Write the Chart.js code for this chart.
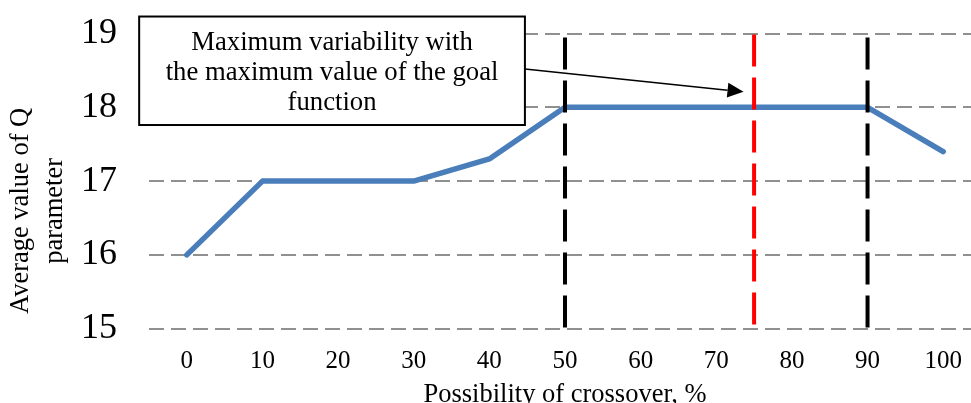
<!DOCTYPE html>
<html>
<head>
<meta charset="utf-8">
<script src="https://cdn.jsdelivr.net/npm/chart.js@4.4.1/dist/chart.umd.min.js"></script>
<style>
    html, body { margin: 0; padding: 0; background: #ffffff; overflow: hidden; }
    #wrap { width: 971px; height: 403px; overflow: hidden; }
</style>
</head>
<body>
<div id="wrap"><canvas id="chart" width="985" height="411"></canvas></div>
<script>
// Chart data
const crossoverPct = [0, 10, 20, 30, 40, 50, 60, 70, 80, 90, 100];
const avgQ = [16, 17, 17, 17, 17.3, 18, 18, 18, 18, 18, 17.4];
const yTicks = [15, 16, 17, 18, 19];
const boundaryX = [50, 90];     // black dashed markers
const optimumX = 75;            // red dashed marker
const noteLines = ['Maximum variability with', 'the maximum value of the goal', 'function'];

// Note box and arrow anchors, in data units
const noteBox = { x0: -6.3, x1: 44.7, y0: 19.23, y1: 17.76 };
const noteArrow = { x0: 44.7, y0: 18.52, x1: 73.6, y1: 18.21 };

const serif = "'Liberation Serif', 'Times New Roman', serif";

function vLine(x, color, dashOffset) {
    return {
        data: [{ x: x, y: 19 }, { x: x, y: 15 }],
        borderColor: color,
        borderWidth: 4,
        borderDash: [32, 11],
        borderDashOffset: dashOffset,
        pointRadius: 0,
        fill: false
    };
}

// Draw the text box with its arrow
const notePlugin = {
    id: 'note',
    afterDraw(chart) {
        const ctx = chart.ctx;
        const xs = chart.scales.x, ys = chart.scales.y;
        const bx0 = xs.getPixelForValue(noteBox.x0), bx1 = xs.getPixelForValue(noteBox.x1);
        const by0 = ys.getPixelForValue(noteBox.y0), by1 = ys.getPixelForValue(noteBox.y1);
        ctx.save();
        ctx.fillStyle = '#ffffff';
        ctx.fillRect(bx0, by0, bx1 - bx0, by1 - by0);
        ctx.strokeStyle = '#000000';
        ctx.lineWidth = 2;
        ctx.strokeRect(bx0, by0, bx1 - bx0, by1 - by0);

        ctx.fillStyle = '#000000';
        ctx.font = '26.7px ' + serif;
        ctx.textAlign = 'center';
        ctx.textBaseline = 'alphabetic';
        const cx = (bx0 + bx1) / 2;
        noteLines.forEach((t, i) => ctx.fillText(t, cx, by0 + 33.5 + i * 30));

        // arrow
        const ax0 = xs.getPixelForValue(noteArrow.x0), ay0 = ys.getPixelForValue(noteArrow.y0);
        const ax1 = xs.getPixelForValue(noteArrow.x1), ay1 = ys.getPixelForValue(noteArrow.y1);
        const ang = Math.atan2(ay1 - ay0, ax1 - ax0);
        const headLen = 16, headW = 7.5;
        const hx = ax1 - headLen * Math.cos(ang), hy = ay1 - headLen * Math.sin(ang);
        ctx.lineWidth = 1.5;
        ctx.beginPath();
        ctx.moveTo(ax0, ay0);
        ctx.lineTo(hx, hy);
        ctx.stroke();
        ctx.beginPath();
        ctx.moveTo(ax1, ay1);
        ctx.lineTo(hx + headW * Math.sin(ang), hy - headW * Math.cos(ang));
        ctx.lineTo(hx - headW * Math.sin(ang), hy + headW * Math.cos(ang));
        ctx.closePath();
        ctx.fill();
        ctx.restore();
    }
};

const ctx = document.getElementById('chart').getContext('2d');
new Chart(ctx, {
    type: 'line',
    data: {
        datasets: [
            vLine(optimumX, '#ff0000', -1),
            ...boundaryX.map(x => vLine(x, '#000000', -4)),
            {
                label: 'Average value of Q parameter',
                data: crossoverPct.map((x, i) => ({ x: x, y: avgQ[i] })),
                borderColor: '#4a7ebb',
                borderWidth: 5.5,
                borderCapStyle: 'round',
                borderJoinStyle: 'round',
                pointRadius: 0,
                tension: 0,
                fill: false
            }
        ]
    },
    options: {
        responsive: false,
        animation: false,
        layout: { padding: { top: 0, right: 4, bottom: 0, left: 0 } },
        plugins: {
            legend: { display: false },
            tooltip: { enabled: false }
        },
        scales: {
            x: {
                type: 'linear',
                min: -5,
                max: 105,
                afterBuildTicks: (axis) => { axis.ticks = crossoverPct.map(v => ({ value: v })); },
                grid: { display: false, drawTicks: false },
                border: { display: false },
                ticks: {
                    color: '#000000',
                    padding: 18,
                    maxRotation: 0,
                    autoSkip: false,
                    font: { family: serif, size: 25 }
                },
                title: {
                    display: true,
                    text: 'Possibility of crossover, %',
                    color: '#000000',
                    padding: { top: -15.5, bottom: 0 },
                    font: { family: serif, size: 26.5 }
                }
            },
            y: {
                min: 15,
                max: 19,
                afterBuildTicks: (axis) => { axis.ticks = yTicks.map(v => ({ value: v })); },
                grid: {
                    color: '#909090',
                    lineWidth: 2,
                    drawTicks: false
                },
                border: { display: false, dash: [15, 7] },
                ticks: {
                    color: '#000000',
                    padding: 32,
                    // small line height keeps the top gridline near the canvas edge
                    font: { family: serif, size: 36, lineHeight: 3 / 36 }
                },
                title: {
                    display: true,
                    text: ['Average value of Q         ', 'parameter         '],
                    color: '#000000',
                    padding: { top: 4, bottom: -23 },
                    font: { family: serif, size: 26.5, lineHeight: 34 / 26.5 }
                }
            }
        }
    },
    plugins: [notePlugin]
});
</script>
</body>
</html>
